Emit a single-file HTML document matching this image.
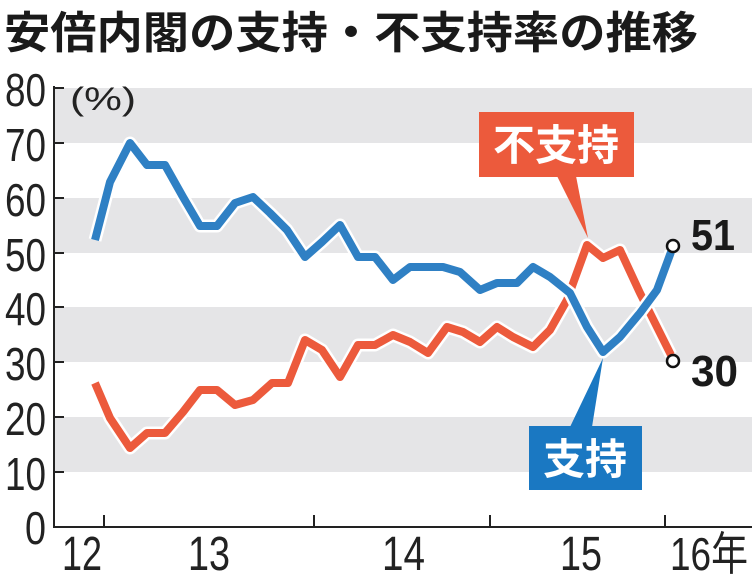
<!DOCTYPE html>
<html><head><meta charset="utf-8"><style>
body{margin:0;background:#fff;width:755px;height:580px;overflow:hidden}
svg{display:block}
</style></head><body>
<svg width="755" height="580" xmlns="http://www.w3.org/2000/svg" font-family="Liberation Sans, Noto Sans CJK JP, sans-serif">
<text x="4" y="48" font-size="44" font-weight="bold" fill="#1a1a1a" font-family="Noto Sans CJK JP, sans-serif" textLength="694" lengthAdjust="spacingAndGlyphs">安倍内閣の支持・不支持率の推移</text>
<g fill="#e5e5e7">
<rect x="55" y="88" width="697" height="55"/>
<rect x="55" y="198" width="697" height="55"/>
<rect x="55" y="307" width="697" height="55"/>
<rect x="55" y="417" width="697" height="55"/>
</g>
<g stroke="#222" stroke-width="2" fill="none">
<path d="M54 86 V527 H752"/>
<path d="M54 88h10M54 143h10M54 198h10M54 253h10M54 307h10M54 362h10M54 417h10M54 472h10"/>
<path d="M104 527v-12M314 527v-12M490 527v-12M665 527v-12"/>
</g>
<g font-size="46" fill="#222" lengthAdjust="spacingAndGlyphs">
<text x="5" y="106" textLength="41" lengthAdjust="spacingAndGlyphs">80</text>
<text x="5" y="161" textLength="41" lengthAdjust="spacingAndGlyphs">70</text>
<text x="5" y="216" textLength="41" lengthAdjust="spacingAndGlyphs">60</text>
<text x="5" y="271" textLength="41" lengthAdjust="spacingAndGlyphs">50</text>
<text x="5" y="325" textLength="41" lengthAdjust="spacingAndGlyphs">40</text>
<text x="5" y="380" textLength="41" lengthAdjust="spacingAndGlyphs">30</text>
<text x="5" y="435" textLength="41" lengthAdjust="spacingAndGlyphs">20</text>
<text x="5" y="490" textLength="41" lengthAdjust="spacingAndGlyphs">10</text>
<text x="25" y="544" textLength="21" lengthAdjust="spacingAndGlyphs">0</text>
</g>
<text x="70" y="110" font-size="32" fill="#222" textLength="66" lengthAdjust="spacingAndGlyphs">(%)</text>
<g font-size="48" fill="#222">
<text x="62" y="570" textLength="40" lengthAdjust="spacingAndGlyphs">12</text>
<text x="188" y="570" textLength="42" lengthAdjust="spacingAndGlyphs">13</text>
<text x="382" y="570" textLength="43" lengthAdjust="spacingAndGlyphs">14</text>
<text x="560" y="570" textLength="42" lengthAdjust="spacingAndGlyphs">15</text>
</g>
<text x="670" y="570" font-size="46" fill="#222" textLength="78" lengthAdjust="spacingAndGlyphs" font-family="Liberation Sans, Noto Sans CJK JP, sans-serif">16年</text>
<polyline fill="none" stroke="#fff" stroke-width="13" stroke-linejoin="round" points="95,383 110,418 130,448 147,433 165,433 183,412 200,390 217,390 235,405 253,400 272,383 288,383 305,340 322,350 340,377 358,345 375,345 393,335 410,342 428,353 447,327 463,332 480,342 497,327 513,337 533,347 550,330 567,300 587,245 603,258 620,250 640,293 657,327 671,355"/>
<polyline fill="none" stroke="#ec5a3c" stroke-width="8" stroke-linejoin="round" points="95,383 110,418 130,448 147,433 165,433 183,412 200,390 217,390 235,405 253,400 272,383 288,383 305,340 322,350 340,377 358,345 375,345 393,335 410,342 428,353 447,327 463,332 480,342 497,327 513,337 533,347 550,330 567,300 587,245 603,258 620,250 640,293 657,327 671,355"/>
<polyline fill="none" stroke="#fff" stroke-width="13" stroke-linejoin="round" points="95,240 110,182 130,143 147,165 165,165 183,197 200,226 217,226 235,203 253,197 270,213 287,230 305,257 322,242 340,225 358,257 375,257 393,280 410,267 443,267 460,272 480,290 497,283 517,283 533,267 550,277 570,293 587,327 603,352 620,337 640,313 657,290 671,252"/>
<polyline fill="none" stroke="#2f80c4" stroke-width="8" stroke-linejoin="round" points="95,240 110,182 130,143 147,165 165,165 183,197 200,226 217,226 235,203 253,197 270,213 287,230 305,257 322,242 340,225 358,257 375,257 393,280 410,267 443,267 460,272 480,290 497,283 517,283 533,267 550,277 570,293 587,327 603,352 620,337 640,313 657,290 671,252"/>
<circle cx="673" cy="246" r="6" fill="#fff" stroke="#111" stroke-width="2.5"/>
<circle cx="673" cy="361" r="6" fill="#fff" stroke="#111" stroke-width="2.5"/>
<text x="691" y="250" font-size="44" font-weight="bold" fill="#1a1a1a" textLength="44" lengthAdjust="spacingAndGlyphs">51</text>
<text x="691" y="386" font-size="44" font-weight="bold" fill="#1a1a1a" textLength="47" lengthAdjust="spacingAndGlyphs">30</text>
<polygon points="557,176 576,176 588,238" fill="#ec5a3c"/>
<rect x="479" y="112" width="155" height="65" fill="#ec5a3c"/>
<text x="556" y="160" font-size="42" font-weight="bold" fill="#fff" text-anchor="middle" font-family="Noto Sans CJK JP, sans-serif">不支持</text>
<polygon points="570,427 592,427 603,358" fill="#1a78c2"/>
<rect x="529" y="426" width="113" height="64" fill="#1a78c2"/>
<text x="585" y="474" font-size="42" font-weight="bold" fill="#fff" text-anchor="middle" font-family="Noto Sans CJK JP, sans-serif">支持</text>
</svg>
</body></html>
